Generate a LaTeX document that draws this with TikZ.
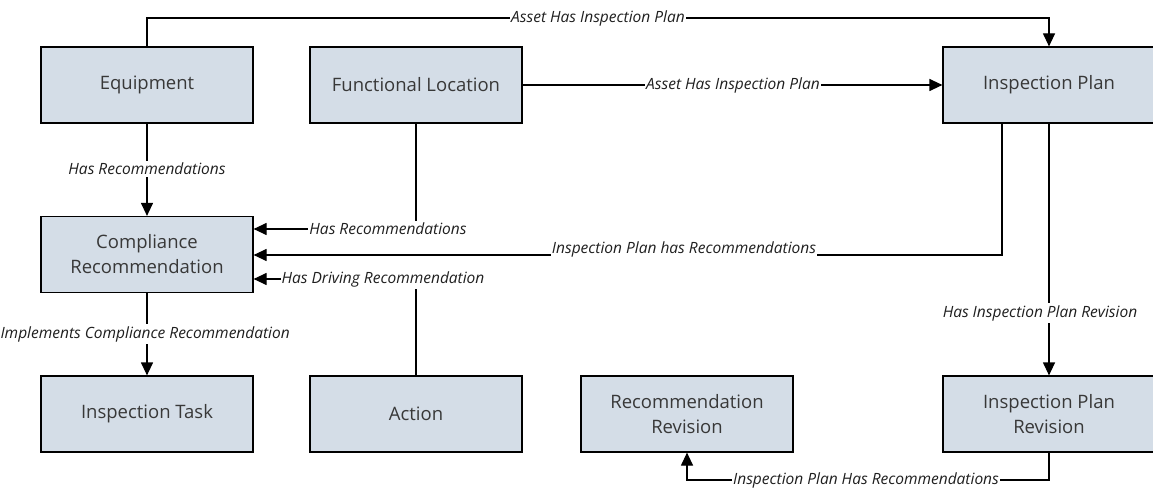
\documentclass[tikz,border=0pt]{standalone}
\usepackage{fontspec}
\setmainfont{Open Sans}
\usetikzlibrary{arrows.meta}
\definecolor{boxfill}{HTML}{D4DDE7}
\definecolor{boxtext}{HTML}{383838}
\begin{document}
\begin{tikzpicture}[x=1pt,y=-1pt,
  ent/.style={draw=black, line width=1.2pt, fill=boxfill, minimum width=212pt, minimum height=76pt, inner sep=0pt, align=center, font=\fontsize{18.5}{25}\selectfont, text=boxtext},
  conn/.style={line width=1.2pt, draw=black},
  arr/.style={conn, -{Triangle[length=13pt,width=12pt]}},
  lbl/.style={fill=white, inner xsep=1pt, inner ysep=2pt, font=\fontsize{15.5}{17}\selectfont\itshape, text=black!88}]
\useasboundingbox (0,0) rectangle (1153,492);

% entities
\node[ent] (eq)  at (147,85)  {Equipment};
\node[ent] (fl)  at (416,85)  {Functional Location};
\node[ent] (ip)  at (1049,85) {Inspection Plan};
\node[ent] (cr)  at (147,254.5) {Compliance\\Recommendation};
\node[ent] (it)  at (147,414) {Inspection Task};
\node[ent] (ac)  at (416,414) {Action};
\node[ent] (rr)  at (687,414) {Recommendation\\Revision};
\node[ent] (ipr) at (1049,414) {Inspection Plan\\Revision};

% helper coordinates
\coordinate (top) at (0,18);
\coordinate (hr1) at (0,229);
\coordinate (hr2) at (0,255);
\coordinate (hr3) at (0,279);
\coordinate (ipl) at (1002,0);
\coordinate (bot) at (0,480);

% connectors
\draw[arr] (eq.north) -- (eq.north |- top) -- (ip.north |- top) -- (ip.north);
\node[lbl] (l1) at (598,18) {Asset Has Inspection Plan};

\draw[arr] (fl.east) -- (ip.west);
\node[lbl] (l2) at (733,85) {Asset Has Inspection Plan};

\draw[arr] (eq.south) -- (cr.north);
\node[lbl] (l3) at (147,169) {Has Recommendations};

\draw[arr] (fl.south) -- (fl.south |- hr1) -- (cr.east |- hr1);
\node[lbl] (l4) at (388,229) {Has Recommendations};

\draw[arr] (ipl |- ip.south) -- (ipl |- hr2) -- (cr.east |- hr2);
\node[lbl, anchor=base] (l5) at (684,253) {Inspection Plan has Recommendations};

\draw[arr] (ac.north) -- (ac.north |- hr3) -- (cr.east |- hr3);
\node[lbl] (l6) at (383,279) {Has Driving Recommendation};

\draw[arr] (cr.south) -- (it.north);
\node[lbl, anchor=east] (l7) at (291,334) {Implements Compliance Recommendation};

\draw[arr] (ip.south) -- (ipr.north);
\node[lbl] (l8) at (1040,313) {Has Inspection Plan Revision};

\draw[arr] (ipr.south) -- (ipr.south |- bot) -- (rr.south |- bot) -- (rr.south);
\node[lbl] (l9) at (866,480) {Inspection Plan Has Recommendations};
\end{tikzpicture}
\end{document}
